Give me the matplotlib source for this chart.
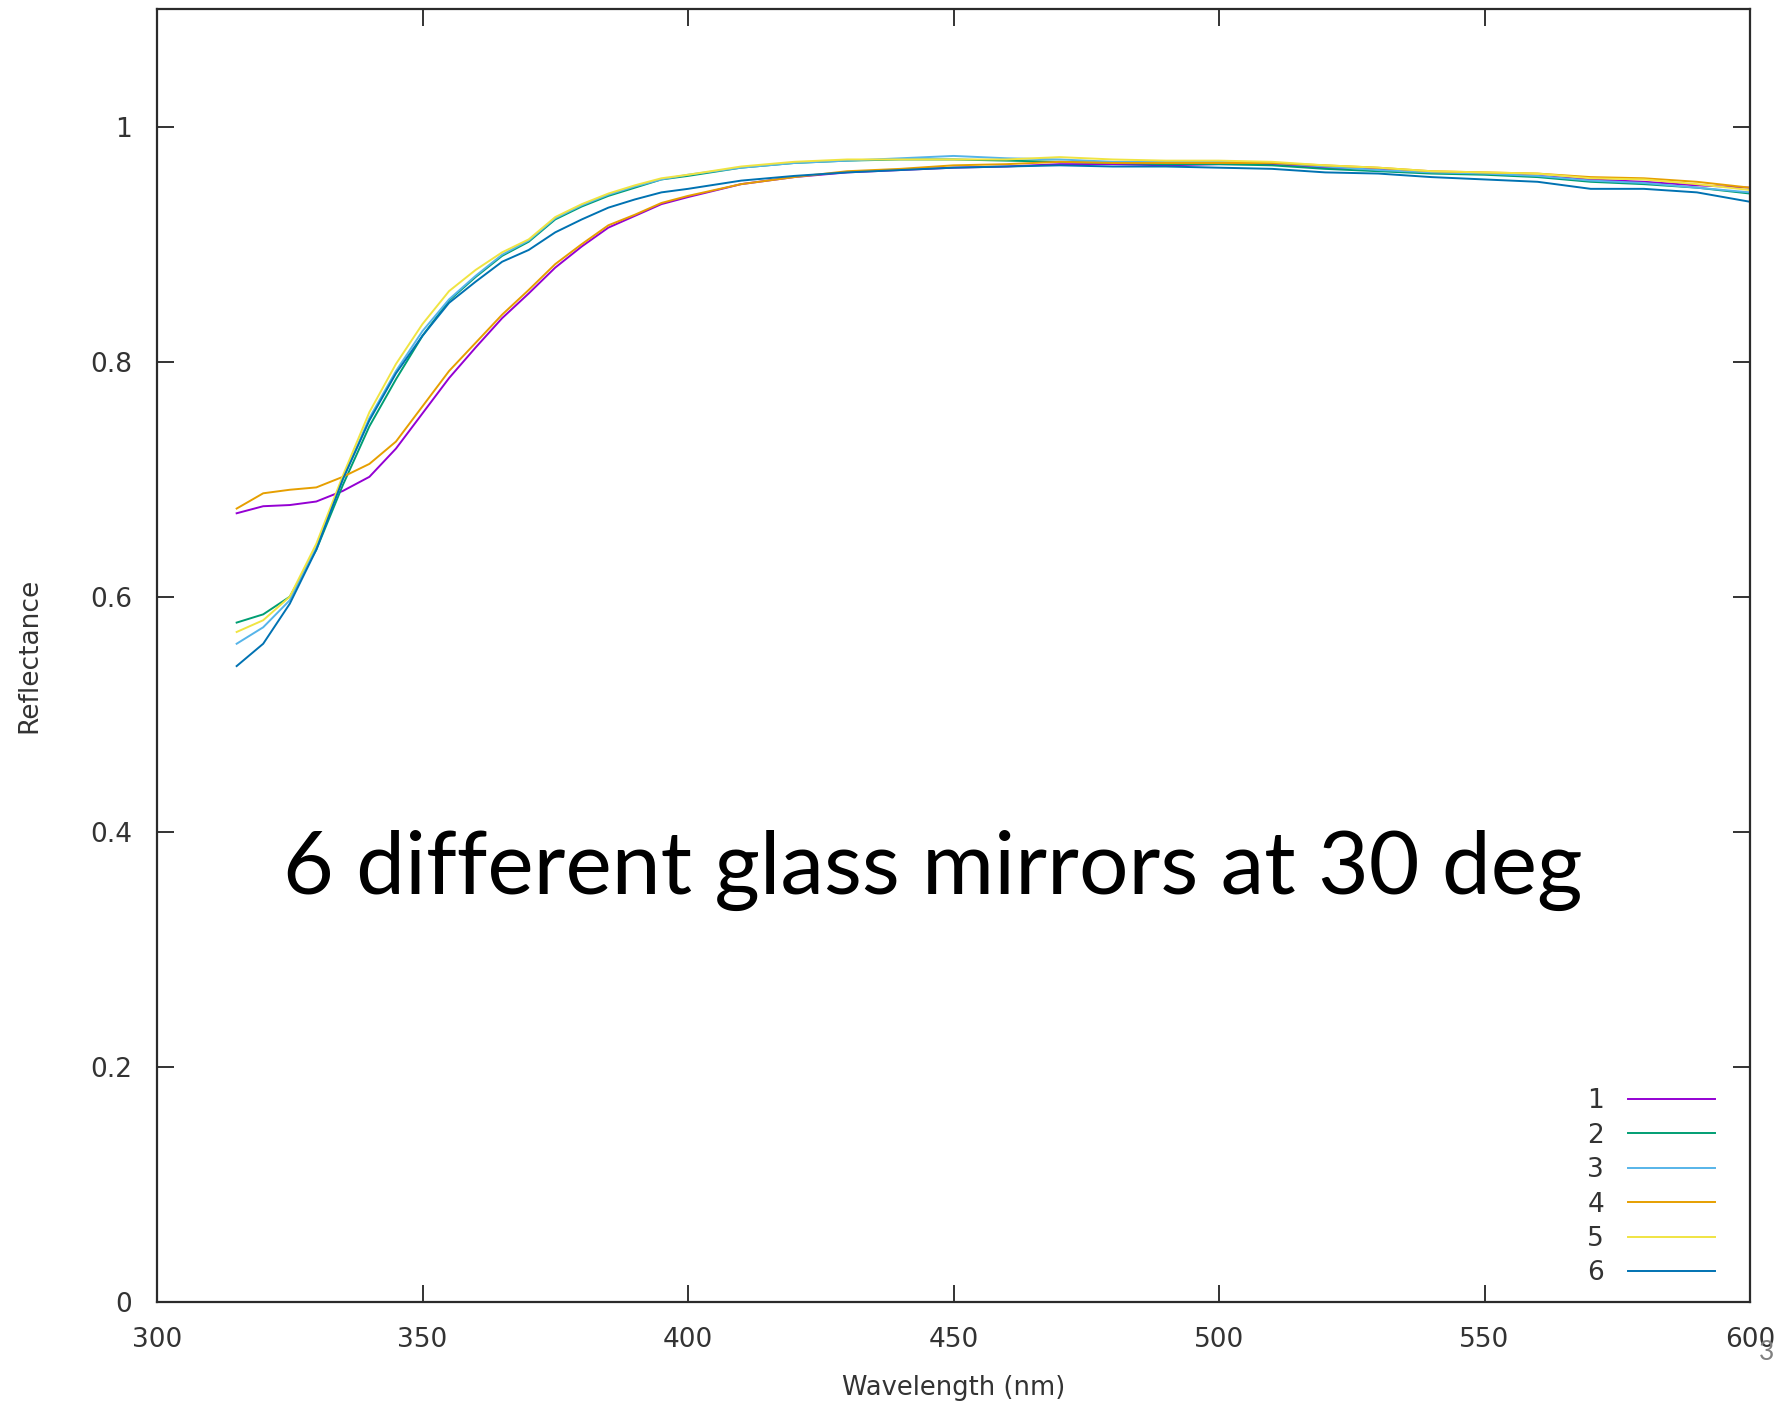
import matplotlib
matplotlib.use('Agg')
import matplotlib.pyplot as plt

# wavelength grid (nm)
wavelength = [315, 320, 325, 330, 335, 340, 345, 350, 355, 360, 365, 370, 375, 380,
              385, 390, 395, 400, 410, 420, 430, 440, 450, 460, 470, 480, 490, 500,
              510, 520, 530, 540, 550, 560, 570, 580, 590, 600]

# reflectance of each mirror
mirror1 = [0.671, 0.677, 0.678, 0.681, 0.690, 0.702, 0.726, 0.756, 0.786, 0.812, 0.837, 0.858, 0.880, 0.898,
           0.914, 0.924, 0.934, 0.940, 0.951, 0.957, 0.961, 0.963, 0.965, 0.966, 0.968, 0.968, 0.967, 0.968,
           0.968, 0.965, 0.964, 0.961, 0.960, 0.958, 0.955, 0.953, 0.950, 0.948]
mirror2 = [0.578, 0.585, 0.600, 0.640, 0.695, 0.745, 0.785, 0.822, 0.852, 0.872, 0.890, 0.902, 0.921, 0.932,
           0.941, 0.948, 0.955, 0.958, 0.965, 0.969, 0.971, 0.972, 0.972, 0.971, 0.970, 0.969, 0.968, 0.968,
           0.967, 0.964, 0.962, 0.960, 0.959, 0.957, 0.953, 0.951, 0.948, 0.943]
mirror3 = [0.560, 0.574, 0.597, 0.642, 0.700, 0.752, 0.792, 0.826, 0.853, 0.873, 0.891, 0.903, 0.922, 0.933,
           0.942, 0.949, 0.955, 0.959, 0.965, 0.969, 0.971, 0.973, 0.975, 0.973, 0.972, 0.970, 0.970, 0.970,
           0.969, 0.966, 0.963, 0.961, 0.960, 0.958, 0.954, 0.952, 0.948, 0.944]
mirror4 = [0.675, 0.688, 0.691, 0.693, 0.702, 0.713, 0.732, 0.762, 0.792, 0.816, 0.840, 0.861, 0.883, 0.900,
           0.916, 0.925, 0.935, 0.941, 0.951, 0.957, 0.962, 0.964, 0.967, 0.968, 0.970, 0.969, 0.969, 0.969,
           0.969, 0.967, 0.965, 0.962, 0.961, 0.960, 0.957, 0.956, 0.953, 0.948]
mirror5 = [0.570, 0.580, 0.600, 0.645, 0.703, 0.757, 0.798, 0.832, 0.860, 0.878, 0.893, 0.904, 0.923, 0.934,
           0.943, 0.950, 0.956, 0.959, 0.966, 0.970, 0.972, 0.972, 0.972, 0.972, 0.974, 0.972, 0.971, 0.971,
           0.970, 0.967, 0.965, 0.962, 0.961, 0.960, 0.956, 0.955, 0.951, 0.946]
mirror6 = [0.541, 0.560, 0.594, 0.640, 0.700, 0.750, 0.790, 0.822, 0.850, 0.868, 0.885, 0.895, 0.910, 0.921,
           0.931, 0.938, 0.944, 0.947, 0.954, 0.958, 0.961, 0.963, 0.965, 0.966, 0.967, 0.966, 0.966, 0.965,
           0.964, 0.961, 0.960, 0.957, 0.955, 0.953, 0.947, 0.947, 0.944, 0.936]

labels = ['1', '2', '3', '4', '5', '6']
colors = ['#9400D3', '#009E73', '#56B4E9', '#E69F00', '#F0E442', '#0072B2']
series = [mirror1, mirror2, mirror3, mirror4, mirror5, mirror6]

x_ticks = [300, 350, 400, 450, 500, 550, 600]
y_ticks = [0, 0.2, 0.4, 0.6, 0.8, 1]
y_ticklabels = ['0', '0.2', '0.4', '0.6', '0.8', '1']

plt.rcParams['font.family'] = ['DejaVu Sans']
text_col = '#333333'

fig = plt.figure(figsize=(17.8, 14.02), dpi=100)
ax = fig.add_axes([157/1780, 100/1402, 1593/1780, 1293/1402])

for vals, lab, col in zip(series, labels, colors):
    ax.plot(wavelength, vals, color=col, linewidth=1.4, label=lab)

ax.set_xlim(300, 600)
ax.set_ylim(0, 1.1)
ax.set_xticks(x_ticks)
ax.set_yticks(y_ticks)
ax.set_yticklabels(y_ticklabels)
ax.tick_params(direction='in', length=12, width=1.4, colors=text_col, labelsize=19,
               top=True, right=True)
ax.tick_params(axis='y', pad=18)
ax.tick_params(axis='x', pad=18)
for s in ax.spines.values():
    s.set_linewidth(1.6)
    s.set_color('#2b2b2b')

ax.set_xlabel('Wavelength (nm)', fontsize=18.5, color=text_col, labelpad=16)
ax.set_ylabel('Reflectance', fontsize=19, color=text_col, labelpad=34)

leg = ax.legend(loc='lower right', bbox_to_anchor=(0.978, 0.012), frameon=False,
                markerfirst=False, fontsize=19, handlelength=3.3, handletextpad=0.9,
                labelspacing=0.32, borderpad=0, borderaxespad=0)
for t in leg.get_texts():
    t.set_color(text_col)

# slide overlay text
fig.text(0.524, 0.379, '6 different glass mirrors at 30 deg', fontsize=63,
         family=['Lato', 'DejaVu Sans'], color='black', ha='center', va='center')
fig.text(1767/1780, 1 - 1352/1402, '3', fontsize=19, family=['Lato', 'DejaVu Sans'],
         color='#808080', ha='center', va='center')

fig.savefig('out.png', dpi=100)
